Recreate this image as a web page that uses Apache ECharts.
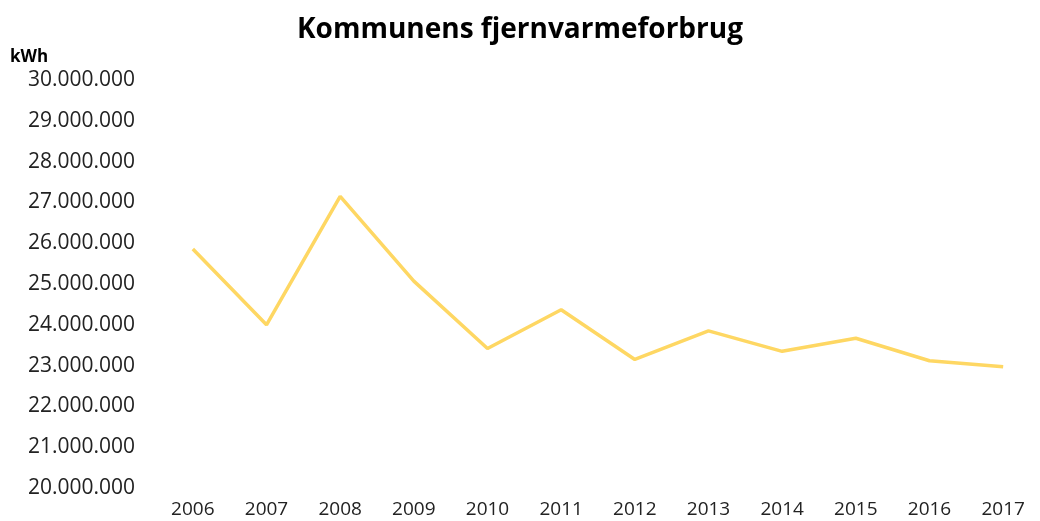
<!DOCTYPE html>
<html><head><meta charset="utf-8">
<script src="https://cdn.jsdelivr.net/npm/echarts@6/dist/echarts.min.js"></script>
<style>html,body{margin:0;padding:0;background:#fff}#c{width:1040px;height:521px}</style>
</head><body><div id="c"></div>
<script>
const titleText = 'Kommunens fjernvarmeforbrug';
const unitLabel = 'kWh';
const years = ['2006','2007','2008','2009','2010','2011','2012','2013','2014','2015','2016','2017'];
const consumption = [25860000, 24000000, 27150000, 25070000, 23420000, 24370000, 23150000, 23850000, 23350000, 23670000, 23120000, 22970000];
const yMin = 20000000, yMax = 30000000, yStep = 1000000;

function fmt(v){ return String(Math.round(v)).replace(/\B(?=(\d{3})+(?!\d))/g,'.'); }

const chart = echarts.init(document.getElementById('c'));
chart.setOption({
  animation:false,
  backgroundColor:'#fff',
  title:{ text:titleText, left:'center', top:11,
    textStyle:{ fontFamily:'Open Sans', fontWeight:'bold', fontSize:28, color:'#000' } },
  grid:{ left:156, right:-8, top:80, bottom:33 },
  xAxis:{ type:'category', data:years, boundaryGap:true,
    axisLine:{show:false}, axisTick:{show:false}, splitLine:{show:false},
    axisLabel:{ fontFamily:'Open Sans', fontSize:19, color:'#222', margin:12 } },
  yAxis:{ type:'value', min:yMin, max:yMax, interval:yStep,
    name:unitLabel, nameLocation:'end', nameGap:14,
    nameTextStyle:{ fontFamily:'Open Sans', fontWeight:'bold', fontSize:17, color:'#000', align:'left', padding:[0,0,0,-146] },
    axisLine:{show:false}, axisTick:{show:false}, splitLine:{show:false},
    axisLabel:{ fontFamily:'Open Sans', fontSize:21, color:'#222', margin:21, formatter:fmt } },
  series:[{ type:'line', data:consumption, symbol:'none',
    lineStyle:{ color:'#FED763', width:3.5 } }]
});
</script></body></html>
